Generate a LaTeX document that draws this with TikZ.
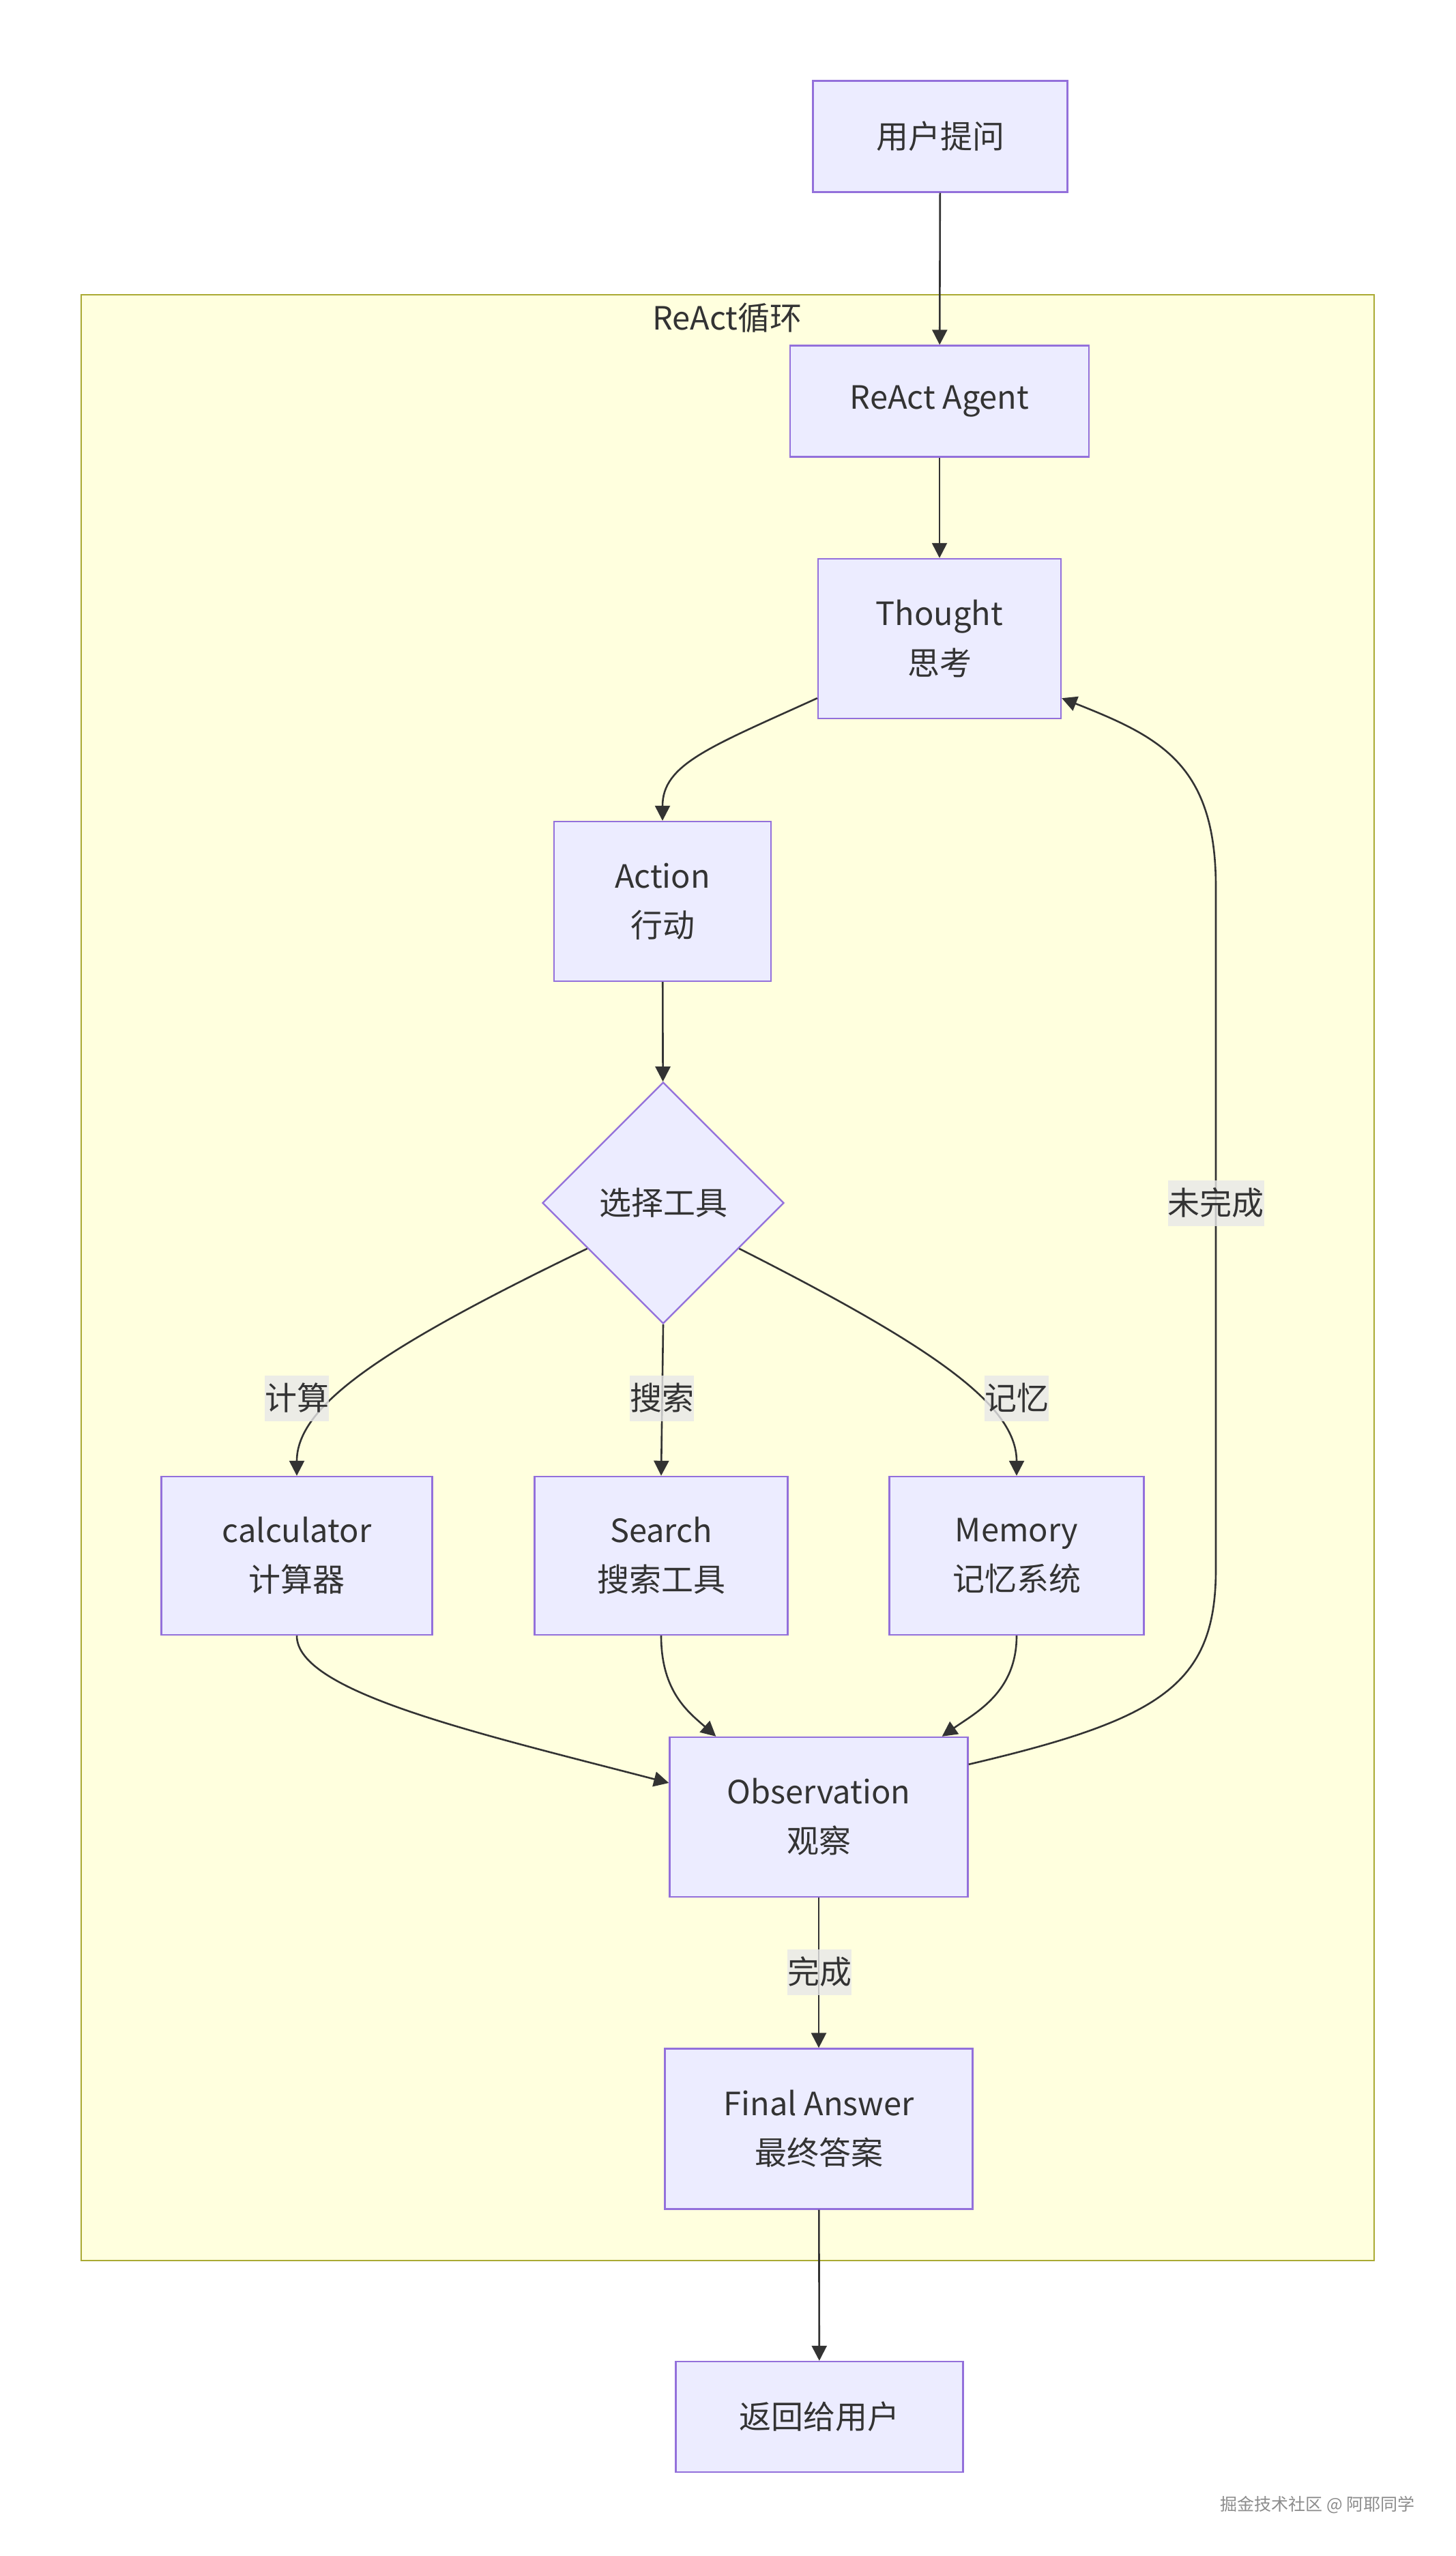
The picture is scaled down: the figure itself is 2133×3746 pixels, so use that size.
\documentclass[tikz,border=0pt]{standalone}
\usepackage{fontspec}
\setmainfont{Noto Sans CJK SC}
\usetikzlibrary{arrows.meta,shapes.geometric}
\definecolor{nodefill}{HTML}{ECECFF}
\definecolor{nodeline}{HTML}{9370DB}
\definecolor{clfill}{HTML}{FFFFDE}
\definecolor{clline}{HTML}{AAAA33}
\definecolor{edgec}{HTML}{333333}
\definecolor{txt}{HTML}{333333}
\definecolor{lblbg}{HTML}{E8E8E8}
\newcommand{\nfont}{\fontsize{23.5}{36}\selectfont}
\begin{document}
\begin{tikzpicture}[x=0.5pt,y=-0.5pt,
  box/.style={draw=nodeline,fill=nodefill,line width=1.2pt,inner sep=0pt,align=center,text=txt,font=\nfont},
  dec/.style={diamond,aspect=1,draw=nodeline,fill=nodefill,line width=1.2pt,inner sep=0pt,minimum width=177pt,minimum height=177pt,text=txt,font=\nfont},
  conn/.style={draw=edgec,line width=1.3pt,-{Triangle[length=11pt,width=11pt]}},
  lbl/.style={fill=lblbg,fill opacity=0.8,text opacity=1,text=txt,inner xsep=0pt,inner ysep=0pt,minimum height=33.5pt,font=\nfont},
  cluster/.style={draw=clline,fill=clfill,line width=1.2pt,inner sep=0pt}
]
\useasboundingbox (0,0) rectangle (2133,3746);
\fill[white] (0,0) rectangle (2133,3746);

% cluster
\node[cluster,minimum width=947.5pt,minimum height=1440.5pt] (loop) at (1066.5,1872.5) {};
\node[text=txt,font=\nfont,inner sep=0pt] (looplbl) at (1066,466) {ReAct循环};

% nodes
\node[box,minimum width=186.5pt,minimum height=81.5pt] (q) at (1378,200) {用户提问};
\node[box,minimum width=219pt,minimum height=81.5pt] (agent) at (1377,588) {ReAct Agent};
\node[box,minimum width=178pt,minimum height=117pt] (thought) at (1377,936) {Thought\\思考};
\node[box,minimum width=159pt,minimum height=117pt] (action) at (971,1321) {Action\\行动};
\node[dec] (choose) at (972,1763) {选择工具};
\node[box,minimum width=198.5pt,minimum height=116pt] (calc) at (435,2280) {calculator\\计算器};
\node[box,minimum width=185.5pt,minimum height=116pt] (search) at (969,2280) {Search\\搜索工具};
\node[box,minimum width=186.5pt,minimum height=116pt] (memory) at (1490,2280) {Memory\\记忆系统};
\node[box,minimum width=218.5pt,minimum height=117pt] (obs) at (1200,2663) {Observation\\观察};
\node[box,minimum width=225.5pt,minimum height=117.5pt] (final) at (1200,3120) {Final Answer\\最终答案};
\node[box,minimum width=210.5pt,minimum height=81pt] (ret) at (1201,3542) {返回给用户};

% edges
\draw[conn] (q) -- (agent);
\draw[conn] (agent) -- (thought);
\draw[conn] ([yshift=15.5pt]thought.south west) .. controls (1040,1095) and (971,1120) .. (action.north);
\draw[conn] (action) -- (choose);
\draw[conn] (choose.211) .. controls (560,1975) and (435,2060) .. (calc.north);
\draw[conn] (choose.south) -- (search.north);
\draw[conn] (choose.329) .. controls (1370,1975) and (1490,2060) .. (memory.north);
\draw[conn] (calc.south) .. controls (435,2480) and (700,2540) .. ([yshift=25pt]obs.west);
\draw[conn] (search.south) .. controls (969,2480) and (1010,2510) .. ([xshift=34.5pt]obs.north west);
\draw[conn] (memory.south) .. controls (1490,2480) and (1430,2510) .. ([xshift=-19.5pt]obs.north east);
\draw[conn] ([yshift=-20.5pt]obs.north east) .. controls (1700,2520) and (1782,2470) .. (1782,2300)
  -- (1782,1300) .. controls (1782,1120) and (1700,1080) .. ([yshift=15.5pt]thought.south east);
\draw[conn] (obs) -- (final);
\draw[conn] (final) -- (ret);

% edge labels
\node[lbl] (l1) at (435,2049) {计算};
\node[lbl] (l2) at (970,2049) {搜索};
\node[lbl] (l3) at (1490,2049) {记忆};
\node[lbl] (l4) at (1782,1763) {未完成};
\node[lbl] (l5) at (1201,2890) {完成};

% watermark
\node[text=black!45,font=\fontsize{12.5}{15}\selectfont,inner sep=0pt] (wm) at (1931,3671) {掘金技术社区 @ 阿耶同学};
\end{tikzpicture}
\end{document}
